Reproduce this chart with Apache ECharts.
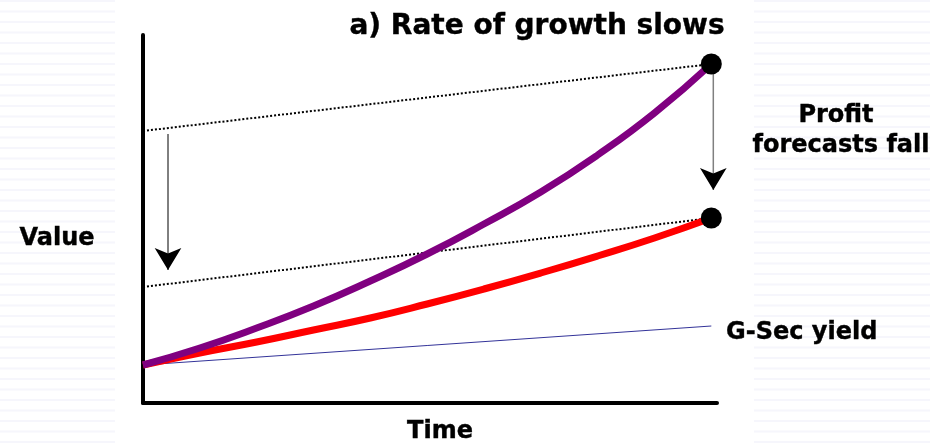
<!DOCTYPE html>
<html>
<head>
<meta charset="utf-8">
<script src="https://cdn.jsdelivr.net/npm/echarts@6/dist/echarts.min.js"></script>
<style>html,body{margin:0;padding:0;background:#fff}#c{width:930px;height:446px}</style>
</head>
<body>
<div id="c"></div>
<script>
// Time axis positions (0 = start, 100 = end of horizon)
const timePoints = [0, 10, 20, 30, 40, 50, 60, 70, 80, 90, 100];
// Value before growth slowdown (purple)
const valueBefore = [38, 55, 75, 97, 122, 149, 179, 211, 248, 290, 339];
// Value after growth slowdown (red)
const valueAfter = [38, 50, 61, 73, 85, 99, 114, 130, 147, 165, 185];
// G-Sec yield line (start, end)
const gsecTime = [0, 100];
const gsecValue = [38, 77];
// Dotted guide lines (start, end)
const guideTime = [0, 100];
const guideUpper = [272, 339];
const guideLower = [116, 185];
// End points (dots)
const dotTime = [100, 100];
const dotValue = [339, 185];
// Arrows: x position, start value, arrowhead-centre value
const arrowLeft = {t: 4.4, from: 269, head: 133};
const arrowRight = {t: 100.35, from: 333, head: 213};

const zip = (a, b) => a.map((x, i) => [x, b[i]]);

// faint background stripes (decoration)
const stripes = [];
for (let y = 0; y < 446; y += 10.5) {
  stripes.push({type: 'rect', shape: {x: 0, y: y, width: 115, height: 2}, style: {fill: '#f6f6fc'}, silent: true, z: -10});
  stripes.push({type: 'rect', shape: {x: 754, y: y, width: 176, height: 2}, style: {fill: '#f6f6fc'}, silent: true, z: -10});
}

const font = '"DejaVu Sans", Verdana, sans-serif';
const txt = (text, x, y, align, size) => ({
  type: 'text', x: x, y: y, silent: true, z: 10,
  style: {text: text, fill: '#000', font: 'bold ' + size + 'px ' + font, textAlign: align, textVerticalAlign: 'middle',
          stroke: '#000', lineWidth: 0.4}
});

const chart = echarts.init(document.getElementById('c'), null, {renderer: 'canvas'});
chart.setOption({
  backgroundColor: '#fff',
  animation: false,
  grid: {left: 143, right: 213, top: 35, bottom: 43},
  xAxis: {
    type: 'value', min: 0, max: 101,
    axisLine: {show: true, lineStyle: {color: '#000', width: 4}},
    axisTick: {show: false}, axisLabel: {show: false}, splitLine: {show: false}
  },
  yAxis: {
    type: 'value', min: 0, max: 368,
    axisLine: {show: true, lineStyle: {color: '#000', width: 4}},
    axisTick: {show: false}, axisLabel: {show: false}, splitLine: {show: false}
  },
  graphic: stripes.concat([
    txt('a) Rate of growth slows', 537, 27, 'center', 28),
    txt('Profit', 836, 116, 'center', 24),
    txt('forecasts fall', 841, 146, 'center', 24),
    txt('Value', 57, 239, 'center', 24),
    txt('Time', 440, 432, 'center', 24),
    txt('G-Sec yield', 726, 333, 'left', 24)
  ]),
  series: [
    {type: 'line', data: zip(guideTime, guideUpper), showSymbol: false, silent: true, z: 2,
     lineStyle: {color: '#000', width: 2, type: [2, 2]}},
    {type: 'line', data: zip(guideTime, guideLower), showSymbol: false, silent: true, z: 2,
     lineStyle: {color: '#000', width: 2, type: [2, 2]}},
    {type: 'line', data: zip(gsecTime, gsecValue), showSymbol: false, silent: true, z: 3,
     lineStyle: {color: '#333399', width: 1}},
    {type: 'line', data: zip(timePoints, valueAfter), showSymbol: false, smooth: 0.5, silent: true, z: 4,
     lineStyle: {color: '#ff0000', width: 7}},
    {type: 'line', data: zip(timePoints, valueBefore), showSymbol: false, smooth: 0.5, silent: true, z: 5,
     lineStyle: {color: '#800080', width: 7}},
    {type: 'line', data: [[arrowLeft.t, arrowLeft.from], [arrowLeft.t, arrowLeft.head]], showSymbol: false, silent: true, z: 6,
     lineStyle: {color: '#000', width: 1}},
    {type: 'line', data: [[arrowRight.t, arrowRight.from], [arrowRight.t, arrowRight.head]], showSymbol: false, silent: true, z: 6,
     lineStyle: {color: '#808080', width: 1.5}},
    {type: 'scatter', data: [[arrowLeft.t, arrowLeft.head], [arrowRight.t, arrowRight.head]], symbol: 'arrow', symbolRotate: 180,
     symbolSize: [20, 22], silent: true, z: 7, itemStyle: {color: '#000', opacity: 1}},
    {type: 'scatter', data: zip(dotTime, dotValue), symbol: 'circle', symbolSize: 21, silent: true, z: 8,
     itemStyle: {color: '#000', opacity: 1}}
  ]
});
</script>
</body>
</html>
